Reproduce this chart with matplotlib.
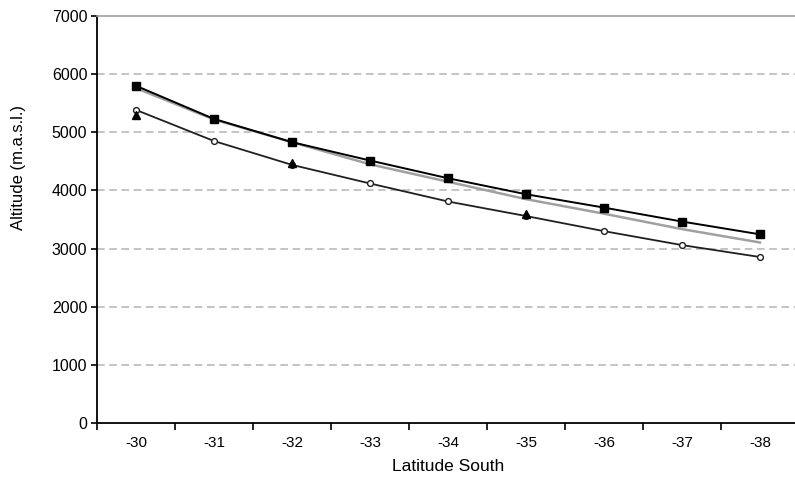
import numpy as np
import matplotlib.pyplot as plt

plt.rcParams['font.family'] = ['Liberation Sans', 'DejaVu Sans']

latitudes = ['-30', '-31', '-32', '-33', '-34', '-35', '-36', '-37', '-38']
squares = [5800, 5230, 4830, 4515, 4210, 3935, 3705, 3465, 3245]
circles = [5385, 4850, 4440, 4120, 3810, 3560, 3300, 3060, 2855]
tri_idx = [0, 2, 5]
triangles = [5300, 4480, 3590]
gray_fit = [5760, 5220, 4830, 4450, 4150, 3850, 3600, 3335, 3105]

x = np.arange(len(latitudes))

fig = plt.figure(figsize=(7.95, 4.87), dpi=100)
ax = fig.add_axes([0.122, 0.1314, 0.883, 0.8357])

for yv in range(1000, 7000, 1000):
    ax.axhline(yv, color='#b4b4b4', lw=1.1, ls=(0, (5, 3)), zorder=0)

ax.plot(x, gray_fit, color='#a0a0a0', lw=1.8, zorder=2)
ax.plot(x, squares, color='black', lw=1.4, marker='s', ms=5.5, zorder=3)
ax.plot(x, circles, color='#202020', lw=1.3, marker='o', ms=4.2,
        mfc='white', mec='#202020', mew=1.0, zorder=3)
ax.plot(tri_idx, triangles, ls='none', marker='^', ms=6, color='black',
        zorder=4)

ax.set_xlim(-0.5, len(latitudes) - 0.5)
ax.set_ylim(0, 7000)
ax.set_yticks(range(0, 7001, 1000))
ax.set_xticks(x)
ax.set_xticklabels(latitudes, fontsize=11)
ax.set_xticks(np.arange(-0.5, len(latitudes), 1), minor=True)
ax.tick_params(axis='x', which='major', length=0, pad=9)
ax.tick_params(axis='x', which='minor', length=5, width=1.2, direction='out')
ax.tick_params(axis='y', length=4, width=1.2, labelsize=11.5, pad=3)

ax.spines['right'].set_visible(False)
ax.spines['top'].set_color('#a0a0a0')
ax.spines['top'].set_linewidth(1.2)
ax.spines['left'].set_linewidth(1.3)
ax.spines['bottom'].set_linewidth(1.3)

ax.set_xlabel('Latitude South', fontsize=12.5, labelpad=7)
ax.set_ylabel('Altitude (m.a.s.l.)', fontsize=12)
ax.yaxis.set_label_coords(-0.101, 0.627)

fig.savefig('out.png', dpi=100)
